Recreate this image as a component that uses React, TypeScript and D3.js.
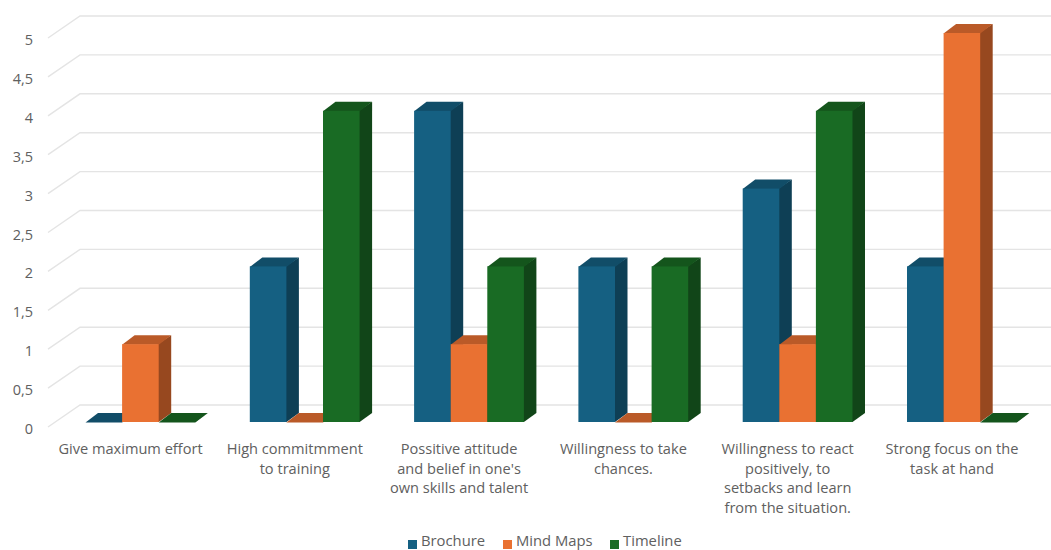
import React from "react";
import * as d3 from "d3";

const categories: string[][] = [
  ["Give maximum effort"],
  ["High commitmment", "to training"],
  ["Possitive attitude", "and belief in one's", "own skills and talent"],
  ["Willingness to take", "chances."],
  ["Willingness to react", "positively, to", "setbacks and learn", "from the situation."],
  ["Strong focus on the", "task at hand"],
];
const seriesNames = ["Brochure", "Mind Maps", "Timeline"];
const brochure = [0, 2, 4, 2, 3, 2];
const mindMaps = [1, 0, 1, 0, 1, 5];
const timeline = [0, 4, 2, 2, 4, 0];
const tickValues = [0, 0.5, 1, 1.5, 2, 2.5, 3, 3.5, 4, 4.5, 5];

const frontColors = ["#156082", "#E97132", "#196B24"];
const sideColors = ["#0E3F55", "#97481F", "#114518"];
const topColors = ["#114D68", "#BA5A28", "#14551C"];
const textColor = "#606060";
const font = "'Open Sans', sans-serif";

const W = 1051;
const H = 550;
const depthX = 12.5;
const depthY = 9;

// Front plane of the bars
const y = d3.scaleLinear().domain([0, 5]).range([422, 33]);
// Back wall, where the gridlines sit
const yBack = d3.scaleLinear().domain([0, 5]).range([405, 16]);
const band = d3.scaleBand<number>().domain(d3.range(6)).range([85.5, 85.5 + 164.3 * 6]).paddingInner(0).paddingOuter(0);
const barW = 36.6;

const poly = (pts: [number, number][]) => pts.map((p) => p.join(",")).join(" ");

export default function App() {
  const series = [brochure, mindMaps, timeline];
  return (
    <svg width={W} height={H} style={{ position: "absolute", left: 0, top: 0, background: "#fff" }}>
      {tickValues.map((t) => (
        <g key={t}>
          <polyline
            points={poly([[48, yBack(t) + 22], [80, yBack(t)], [W, yBack(t)]])}
            fill="none"
            stroke="#E4E4E4"
            strokeWidth={1.4}
          />
          <text x={33} y={y(t) + 12} textAnchor="end" fontFamily={font} fontSize={14.5} fill={textColor}>
            {String(t).replace(".", ",")}
          </text>
        </g>
      ))}
      {categories.map((lines, i) => {
        const x0 = band(i)!;
        return (
          <g key={i}>
            {series.map((vals, s) => {
              const xl = x0 + s * barW;
              const xr = xl + barW;
              const top = y(vals[i]);
              const base = y(0);
              return (
                <g key={s}>
                  {/* Side and top run slightly under the front face so no seam shows */}
                  <polygon
                    points={poly([[xr - 1, top], [xr + depthX, top - depthY], [xr + depthX, base - depthY], [xr, base], [xr - 1, base]])}
                    fill={sideColors[s]}
                  />
                  <polygon
                    points={poly([[xl, top + 0.5], [xl + depthX, top - depthY], [xr + depthX, top - depthY], [xr, top + 0.5]])}
                    fill={topColors[s]}
                  />
                  <rect x={xl} y={top} width={barW} height={base - top} fill={frontColors[s]} />
                </g>
              );
            })}
            <text textAnchor="middle" fontFamily={font} fontSize={14.6} fill={textColor}>
              {lines.map((line, k) => (
                <tspan key={k} x={x0 + 45} y={454 + k * 19.7}>
                  {line}
                </tspan>
              ))}
            </text>
          </g>
        );
      })}
      {seriesNames.map((name, s) => {
        const sx = [408, 503, 610][s];
        return (
          <g key={name}>
            <rect x={sx} y={540} width={9} height={9} fill={frontColors[s]} />
            <text x={sx + 13} y={545.6} fontFamily={font} fontSize={14.8} fill={textColor}>
              {name}
            </text>
          </g>
        );
      })}
    </svg>
  );
}
